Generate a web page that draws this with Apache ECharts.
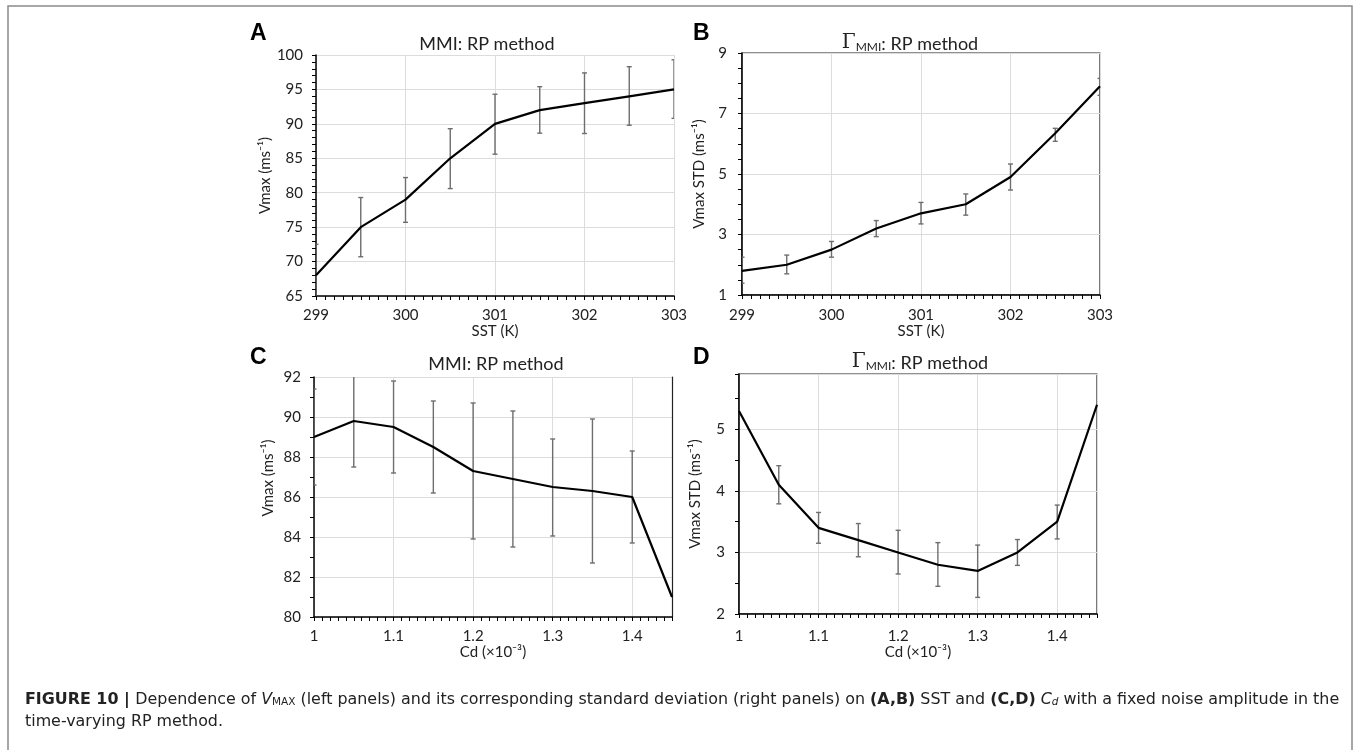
<!DOCTYPE html>
<html>
<head>
<meta charset="utf-8">
<script src="https://cdn.jsdelivr.net/npm/echarts@6/dist/echarts.min.js"></script>
<style>
  html, body { margin: 0; padding: 0; background: #fff; }
  #chart { width: 1356px; height: 750px; }
</style>
</head>
<body>
<div id="chart"></div>
<script>
// SST sensitivity (panels A, B)
const sstVals = [299, 299.5, 300, 300.5, 301, 301.5, 302, 302.5, 303];
const vmaxSst = [68, 75, 79, 85, 90, 92, 93, 94, 95];
const vmaxSstLow = [63.5, 70.7, 75.7, 80.6, 85.6, 88.65, 88.6, 89.8, 90.8];
const vmaxSstHigh = [72.5, 79.3, 82.2, 89.3, 94.3, 95.4, 97.4, 98.3, 99.3];
const stdSst = [1.8, 2.0, 2.5, 3.2, 3.7, 4.0, 4.9, 6.35, 7.9];
const stdSstLow = [1.39, 1.7, 2.25, 2.93, 3.35, 3.64, 4.47, 6.08, 7.6];
const stdSstHigh = [2.25, 2.32, 2.77, 3.46, 4.06, 4.34, 5.33, 6.51, 8.16];

// Drag coefficient sensitivity (panels C, D)
const cdVals = [1.00, 1.05, 1.10, 1.15, 1.20, 1.25, 1.30, 1.35, 1.40, 1.45];
const vmaxCd = [89.0, 89.8, 89.5, 88.5, 87.3, 86.9, 86.5, 86.3, 86.0, 81.0];
const vmaxCdLow = [86.6, 87.5, 87.2, 86.2, 83.9, 83.5, 84.05, 82.7, 83.7, null];
const vmaxCdHigh = [91.4, 92.1, 91.8, 90.8, 90.7, 90.3, 88.9, 89.9, 88.3, null];
const stdCd = [5.3, 4.1, 3.4, 3.2, 3.0, 2.8, 2.7, 3.0, 3.5, 5.4];
const stdCdLow = [null, 3.79, 3.15, 2.93, 2.65, 2.45, 2.27, 2.79, 3.22, null];
const stdCdHigh = [null, 4.41, 3.65, 3.47, 3.36, 3.16, 3.12, 3.21, 3.77, null];

const FONT = 'Lato, "Open Sans", sans-serif';
const CAPFONT = '"DejaVu Sans", "Liberation Sans", sans-serif';
const TXT = '#222';

function pairs(xs, ys) { return xs.map((x, i) => [x, ys[i]]); }
function bars(xs, lo, hi) {
  const out = [];
  xs.forEach((x, i) => { if (lo[i] != null && hi[i] != null) out.push([x, lo[i], hi[i]]); });
  return out;
}

function renderErrorBar(params, api) {
  const x = api.value(0);
  const top = api.coord([x, api.value(2)]);
  const bot = api.coord([x, api.value(1)]);
  const st = { stroke: '#6e6e6e', lineWidth: 1.4 };
  const w = 2.5;
  return {
    type: 'group',
    children: [
      { type: 'line', shape: { x1: top[0], y1: top[1], x2: bot[0], y2: bot[1] }, style: st },
      { type: 'line', shape: { x1: top[0] - w, y1: top[1], x2: top[0] + w, y2: top[1] }, style: st },
      { type: 'line', shape: { x1: bot[0] - w, y1: bot[1], x2: bot[0] + w, y2: bot[1] }, style: st }
    ]
  };
}

function xAxisCfg(gi, min, max, interval, nameText, labelMargin, nameGap, showMax) {
  return {
    gridIndex: gi, type: 'value', min: min, max: max, interval: interval,
    name: nameText, nameLocation: 'middle', nameGap: nameGap,
    nameTextStyle: { fontFamily: FONT, fontSize: 15, color: TXT },
    axisLine: { show: true, onZero: false, lineStyle: { color: '#000', width: 1.5 } },
    axisTick: { show: true, length: 4, lineStyle: { color: '#000' } },
    minorTick: { show: true, splitNumber: 10, length: 4, lineStyle: { color: '#000' } },
    axisLabel: { fontFamily: FONT, fontSize: 15, color: TXT, margin: labelMargin, showMaxLabel: showMax,
                 formatter: v => String(Math.round(v * 100) / 100) },
    splitLine: { show: true, lineStyle: { color: '#dcdcdc', width: 1 } }
  };
}

function yAxisCfg(gi, min, max, interval, minorSplit, nameText, nameGap, labelMargin, namePad, showMax) {
  return {
    gridIndex: gi, type: 'value', min: min, max: max, interval: interval,
    name: nameText, nameLocation: 'middle', nameGap: nameGap, nameRotate: 90,
    nameTextStyle: { fontFamily: FONT, fontSize: 15, color: TXT, padding: namePad || 0 },
    axisLine: { show: true, onZero: false, lineStyle: { color: '#000', width: 1.5 } },
    axisTick: { show: true, length: 4, lineStyle: { color: '#000' } },
    minorTick: { show: true, splitNumber: minorSplit, length: 4, lineStyle: { color: '#000' } },
    axisLabel: { fontFamily: FONT, fontSize: 15, color: TXT, margin: labelMargin, showMaxLabel: showMax !== false },
    splitLine: { show: true, lineStyle: { color: '#dcdcdc', width: 1 } }
  };
}

const sstName = 'SST (K)';
const cdName = 'Cd (×10⁻³)';
const vmaxName = 'Vmax (ms⁻¹)';
const stdName = 'Vmax STD (ms⁻¹)';

const titleRich = {
  n: { fontFamily: FONT, fontSize: 18, fill: TXT, lineHeight: 26, verticalAlign: 'bottom' },
  g: { fontFamily: '"DejaVu Serif", "Liberation Serif", serif', fontSize: 20, fill: TXT, lineHeight: 26, verticalAlign: 'bottom' },
  s: { fontFamily: FONT, fontSize: 12, fill: TXT, lineHeight: 13, verticalAlign: 'bottom' }
};

function titleText(x, y, text) {
  return { type: 'text', x: x, y: y, style: { text: text, rich: titleRich, align: 'center', verticalAlign: 'middle', fontFamily: FONT, fontSize: 18, fill: TXT } };
}
function panelLetter(x, y, t) {
  return { type: 'text', x: x, y: y, style: { text: t, fontFamily: '"Liberation Sans", Arial, sans-serif', fontWeight: 'bold', fontSize: 23, fill: '#000', align: 'left', verticalAlign: 'middle' } };
}

const CAPSIZE = 15.9;
const capRich = {
  b: { fontFamily: CAPFONT, fontWeight: 'bold', fontSize: CAPSIZE, fill: '#222', lineHeight: 22, verticalAlign: 'bottom' },
  n: { fontFamily: CAPFONT, fontSize: CAPSIZE, fill: '#222', lineHeight: 22, verticalAlign: 'bottom' },
  i: { fontFamily: CAPFONT, fontStyle: 'italic', fontSize: CAPSIZE, fill: '#222', lineHeight: 22, verticalAlign: 'bottom' },
  sub: { fontFamily: CAPFONT, fontSize: 10.5, fill: '#222', lineHeight: 13, verticalAlign: 'bottom' },
  isub: { fontFamily: CAPFONT, fontStyle: 'italic', fontSize: 10.5, fill: '#222', lineHeight: 13, verticalAlign: 'bottom' }
};

const captionLine1 = '{b|FIGURE 10 | }{n|Dependence of }{i|V}{sub|MAX}{n| (left panels) and its corresponding standard deviation (right panels) on }{b|(A,B)}{n| SST and }{b|(C,D)}{n| }{i|C}{isub|d}{n| with a fixed noise amplitude in the}';
const captionLine2 = '{n|time-varying RP method.}';

const option = {
  backgroundColor: '#fff',
  animation: false,
  grid: [
    { left: 316, top: 55, width: 358, height: 241, outerBoundsMode: 'none' },
    { left: 742, top: 53, width: 358, height: 242, outerBoundsMode: 'none', show: true, borderColor: '#222', borderWidth: 1.2, backgroundColor: 'transparent' },
    { left: 314, top: 377, width: 358, height: 240, outerBoundsMode: 'none' },
    { left: 739, top: 374, width: 358, height: 240, outerBoundsMode: 'none', show: true, borderColor: '#222', borderWidth: 1.2, backgroundColor: 'transparent' }
  ],
  xAxis: [
    xAxisCfg(0, 299, 303, 1, sstName, 12, 26, true),
    xAxisCfg(1, 299, 303, 1, sstName, 13, 25, true),
    xAxisCfg(2, 1, 1.45, 0.1, cdName, 12, 23, false),
    xAxisCfg(3, 1, 1.45, 0.1, cdName, 15, 26, false)
  ],
  yAxis: [
    yAxisCfg(0, 65, 100, 5, 5, vmaxName, 40, 13),
    yAxisCfg(1, 1, 9, 2, 4, stdName, 35, 15),
    yAxisCfg(2, 80, 92, 2, 2, vmaxName, 38, 13, [0, 0, 0, 38]),
    yAxisCfg(3, 2, 5.9, 1, 2, stdName, 36, 14, 0, false),
    // right-hand frame edge of panel C
    { gridIndex: 2, type: 'value', min: 80, max: 92, position: 'right',
      axisLine: { show: true, onZero: false, lineStyle: { color: '#222', width: 1.2 } },
      axisTick: { show: false }, axisLabel: { show: false }, splitLine: { show: false } }
  ],
  series: [
    { type: 'custom', xAxisIndex: 0, yAxisIndex: 0, clip: true, renderItem: renderErrorBar, data: bars(sstVals, vmaxSstLow, vmaxSstHigh), z: 2 },
    { type: 'line', xAxisIndex: 0, yAxisIndex: 0, data: pairs(sstVals, vmaxSst), showSymbol: false, clip: true, lineStyle: { color: '#000', width: 2.2 }, z: 3 },
    { type: 'custom', xAxisIndex: 1, yAxisIndex: 1, clip: true, renderItem: renderErrorBar, data: bars(sstVals, stdSstLow, stdSstHigh), z: 2 },
    { type: 'line', xAxisIndex: 1, yAxisIndex: 1, data: pairs(sstVals, stdSst), showSymbol: false, clip: true, lineStyle: { color: '#000', width: 2.2 }, z: 3 },
    { type: 'custom', xAxisIndex: 2, yAxisIndex: 2, clip: true, renderItem: renderErrorBar, data: bars(cdVals, vmaxCdLow, vmaxCdHigh), z: 2 },
    { type: 'line', xAxisIndex: 2, yAxisIndex: 2, data: pairs(cdVals, vmaxCd), showSymbol: false, clip: true, lineStyle: { color: '#000', width: 2.2 }, z: 3 },
    { type: 'custom', xAxisIndex: 3, yAxisIndex: 3, clip: true, renderItem: renderErrorBar, data: bars(cdVals, stdCdLow, stdCdHigh), z: 2 },
    { type: 'line', xAxisIndex: 3, yAxisIndex: 3, data: pairs(cdVals, stdCd), showSymbol: false, clip: true, lineStyle: { color: '#000', width: 2.2 }, z: 3 }
  ],
  graphic: [
    { type: 'rect', shape: { x: 8, y: 6, width: 1344, height: 760 }, style: { fill: 'none', stroke: '#8a8a8a', lineWidth: 1.5 }, silent: true },
    panelLetter(250, 34, 'A'),
    panelLetter(693, 34, 'B'),
    panelLetter(250, 358, 'C'),
    panelLetter(693, 358, 'D'),
    titleText(487, 40, '{n|MMI: RP method}'),
    titleText(910, 40, '{g|Γ}{s|MMI}{n|: RP method}'),
    titleText(496, 360, '{n|MMI: RP method}'),
    titleText(920, 359, '{g|Γ}{s|MMI}{n|: RP method}'),
    { type: 'text', x: 25, y: 697, style: { text: captionLine1, rich: capRich, align: 'left', verticalAlign: 'middle', fontSize: CAPSIZE, fill: '#222' } },
    { type: 'text', x: 25, y: 719, style: { text: captionLine2, rich: capRich, align: 'left', verticalAlign: 'middle', fontSize: CAPSIZE, fill: '#222' } }
  ]
};

const chart = echarts.init(document.getElementById('chart'), null, { renderer: 'canvas' });
chart.setOption(option);
</script>
</body>
</html>
